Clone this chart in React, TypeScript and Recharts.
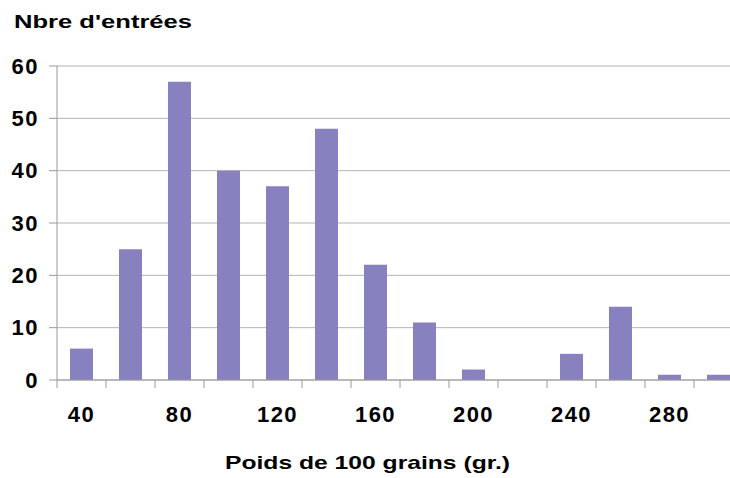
import React from 'react';
import { BarChart, Bar, XAxis, YAxis, CartesianGrid } from 'recharts';

const categories = [40, 60, 80, 100, 120, 140, 160, 180, 200, 220, 240, 260, 280, 300];
const entrees = [6, 25, 57, 40, 37, 48, 22, 11, 2, 0, 5, 14, 1, 1];
const yTicks = [0, 10, 20, 30, 40, 50, 60];
const labelledCategories = [40, 80, 120, 160, 200, 240, 280];

const data = categories.map((poids, i) => ({ poids, entrees: entrees[i] }));

const FONT = '"Liberation Sans", Arial, Helvetica, sans-serif';
const AXIS_GREY = '#9a9a9a';

// tick marks sit between categories (Excel style), labels only every other one
const BoundaryTick = ({ x, y, payload, width }: any) => {
  const half = payload?.offset ? payload.offset : width / categories.length / 2;
  const showLabel = labelledCategories.includes(Number(payload.value));
  return (
    <g>
      <line x1={x - half} x2={x - half} y1={y - 8} y2={y} stroke={AXIS_GREY} />
      {showLabel && (
        <text
          x={x}
          y={y + 34}
          textAnchor="middle"
          fontFamily={FONT}
          fontSize={22}
          fontWeight="bold"
          fill="#000"
          style={{ letterSpacing: '1.5px' }}
        >
          {payload.value}
        </text>
      )}
    </g>
  );
};

export default function App() {
  return (
    <div style={{ position: 'fixed', left: 0, top: 0, width: 730, height: 478, overflow: 'hidden', background: '#fff' }}>
      <BarChart
        width={760}
        height={478}
        data={data}
        margin={{ top: 66, right: 17, left: 0, bottom: 0 }}
        barCategoryGap="26.5%"
      >
        <CartesianGrid vertical={false} stroke="#b4b4b4" />
        <XAxis
          dataKey="poids"
          interval={0}
          height={98}
          tickSize={8}
          tickMargin={0}
          tickLine={false}
          axisLine={{ stroke: AXIS_GREY }}
          tick={<BoundaryTick />}
        />
        <YAxis
          width={57}
          domain={[0, 60]}
          ticks={yTicks}
          interval={0}
          tickSize={8}
          tickMargin={10}
          axisLine={{ stroke: AXIS_GREY }}
          tickLine={{ stroke: AXIS_GREY }}
          tick={{ fill: '#000', fontSize: 22, fontWeight: 'bold', fontFamily: FONT, style: { letterSpacing: '1.5px' } }}
        />
        <Bar dataKey="entrees" fill="#8781c0" isAnimationActive={false} />
      </BarChart>
      <svg width={730} height={478} style={{ position: 'absolute', left: 0, top: 0, pointerEvents: 'none' }}>
        <text x={14} y={28} fontFamily={FONT} fontSize={18} fontWeight="bold" fill="#000" textLength={178} lengthAdjust="spacingAndGlyphs">
          Nbre d'entrées
        </text>
        <text x={225} y={469} fontFamily={FONT} fontSize={19} fontWeight="bold" fill="#000" textLength={285} lengthAdjust="spacingAndGlyphs">
          Poids de 100 grains (gr.)
        </text>
      </svg>
    </div>
  );
}
